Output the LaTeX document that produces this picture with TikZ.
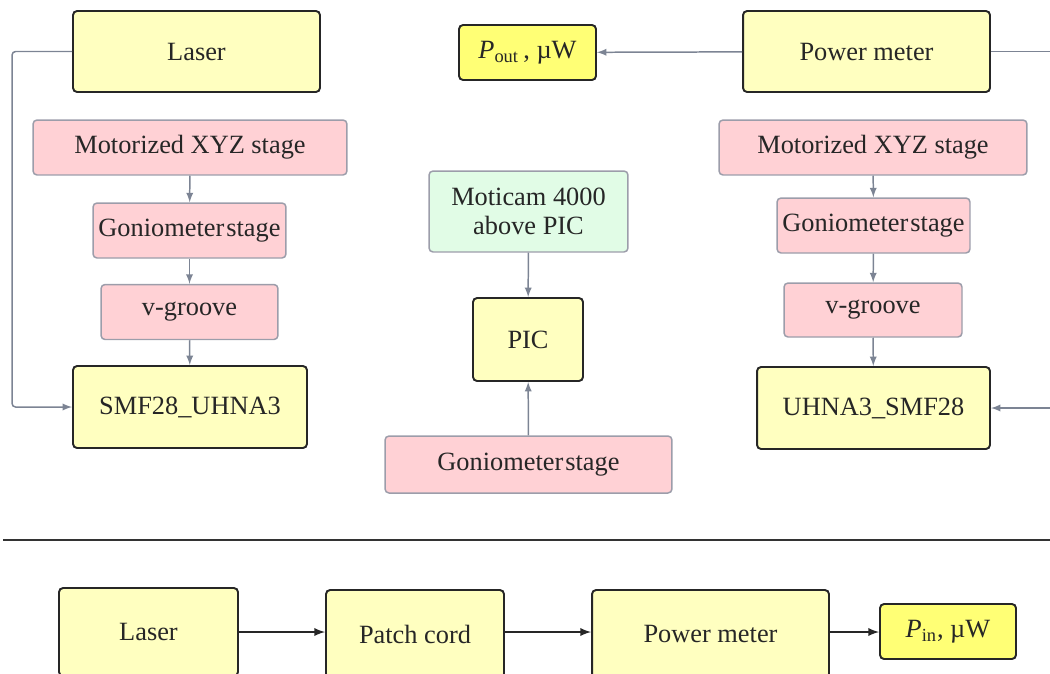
\documentclass[tikz,border=0pt]{standalone}
\usepackage{fontspec}
\setmainfont{Liberation Serif}
\usepackage{tikz}
\usetikzlibrary{arrows}

\definecolor{boxyellow}{HTML}{FFFFC0}
\definecolor{valyellow}{HTML}{FFFF75}
\definecolor{boxpink}{HTML}{FFD1D5}
\definecolor{boxgreen}{HTML}{E1FCE6}
\definecolor{edgegrey}{HTML}{9C9DAA}
\definecolor{linkgrey}{HTML}{7C8494}
\definecolor{textgrey}{HTML}{262626}

\begin{document}
\begin{tikzpicture}[
				x=0.02cm, y=-0.02cm,
				base style/.style={
					rounded corners=2.3pt,
					align=center,
					inner sep=0pt,
					text=textgrey,
					font=\fontsize{15}{16.5}\selectfont
				},
				yellow style/.style={base style, draw=black!85, line width=1.1pt, fill=boxyellow},
				value style/.style={yellow style, fill=valyellow},
				pink style/.style={base style, draw=edgegrey, line width=0.85pt, fill=boxpink},
				green style/.style={base style, draw=edgegrey, line width=0.85pt, fill=boxgreen},
				link style/.style={->, draw=linkgrey, line width=0.85pt},
				black link style/.style={->, draw=black!85, line width=1.1pt},
				>=latex
				]
				
				\useasboundingbox (0,0) rectangle (1050,673);
				\clip (0,0) rectangle (1050,673);
				
				% left column
				\node[yellow style, minimum width=4.94cm, minimum height=1.62cm] (laserL) at (196.5,51.5) {Laser};
				\node[pink style, minimum width=6.28cm, minimum height=1.10cm] (xyzL) at (190,147.5) {Motorized XYZ stage};
				\node[pink style, minimum width=3.86cm, minimum height=1.10cm] (gonioL) at (189.5,230.5) {Goniometer\hspace{1.2pt}stage};
				\node[pink style, minimum width=3.54cm, minimum height=1.10cm] (vgrooveL) at (189.5,312) {v-groove};
				\node[yellow style, minimum width=4.68cm, minimum height=1.64cm] (smfL) at (190,407) {SMF28\_UHNA3};
				
				% middle column
				\node[value style, minimum width=2.74cm, minimum height=1.10cm] (pout) at (527.5,52.5) {\textit{P}\textsubscript{out}\,, µW};
				\node[green style, minimum width=3.98cm, minimum height=1.62cm] (moticam) at (528.5,211.5) {Moticam 4000\\above PIC};
				\node[yellow style, minimum width=2.20cm, minimum height=1.66cm] (pic) at (528,339.5) {PIC};
				\node[pink style, minimum width=5.74cm, minimum height=1.14cm] (gonioC) at (528.5,464.5) {Goniometer\hspace{1.2pt}stage};
				
				% right column
				\node[yellow style, minimum width=4.94cm, minimum height=1.62cm] (powerR) at (866.5,51.5) {Power meter};
				\node[pink style, minimum width=6.16cm, minimum height=1.10cm] (xyzR) at (873,147.5) {Motorized XYZ stage};
				\node[pink style, minimum width=3.86cm, minimum height=1.10cm] (gonioR) at (873.5,225.5) {Goniometer\hspace{1.2pt}stage};
				\node[pink style, minimum width=3.56cm, minimum height=1.08cm] (vgrooveR) at (873,310) {v-groove};
				\node[yellow style, minimum width=4.66cm, minimum height=1.64cm] (uhnaR) at (873.5,408) {UHNA3\_SMF28};
				
				\coordinate (edgeTop) at (1052,51.5);
				\coordinate (edgeMid) at (1052,408);
				
				\draw[link style, rounded corners=2pt] (laserL.west) -- ++(-60,0) |- (smfL.west);
				\draw[link style] (xyzL) -- (gonioL);
				\draw[link style] (gonioL) -- (vgrooveL);
				\draw[link style] (vgrooveL) -- (smfL);
				
				\draw[link style] (moticam) -- (pic);
				\draw[link style] (gonioC) -- (pic);
				\draw[link style] (powerR) -- (pout);
				
				\draw[link style, -] (powerR.east) -- (edgeTop);
				\draw[link style] (xyzR) -- (gonioR);
				\draw[link style] (gonioR) -- (vgrooveR);
				\draw[link style] (vgrooveR) -- (uhnaR);
				\draw[link style] (edgeMid) -- (uhnaR.east);
				
				% separator
				\coordinate (sepA) at (3,540);
				\coordinate (sepB) at (1052,540);
				\draw[line width=0.9pt, black!80] (sepA) -- (sepB);
				
				% reference measurement
				\node[yellow style, minimum width=3.58cm, minimum height=1.76cm] (laserB) at (148.5,632) {Laser};
				\node[yellow style, minimum width=3.56cm, minimum height=1.76cm] (patchB) at (415,634) {Patch cord};
				\node[yellow style, minimum width=4.74cm, minimum height=1.76cm] (powerB) at (710.5,634) {Power meter};
				\node[value style, minimum width=2.72cm, minimum height=1.10cm] (pin) at (948,631.5) {\textit{P}\textsubscript{in}, µW};
				
				\draw[black link style] (laserB.east |- 0,632) -- (patchB.west |- 0,632);
				\draw[black link style] (patchB.east |- 0,632) -- (powerB.west |- 0,632);
				\draw[black link style] (powerB.east |- 0,632) -- (pin.west |- 0,632);
				
			\end{tikzpicture}
\end{document}
